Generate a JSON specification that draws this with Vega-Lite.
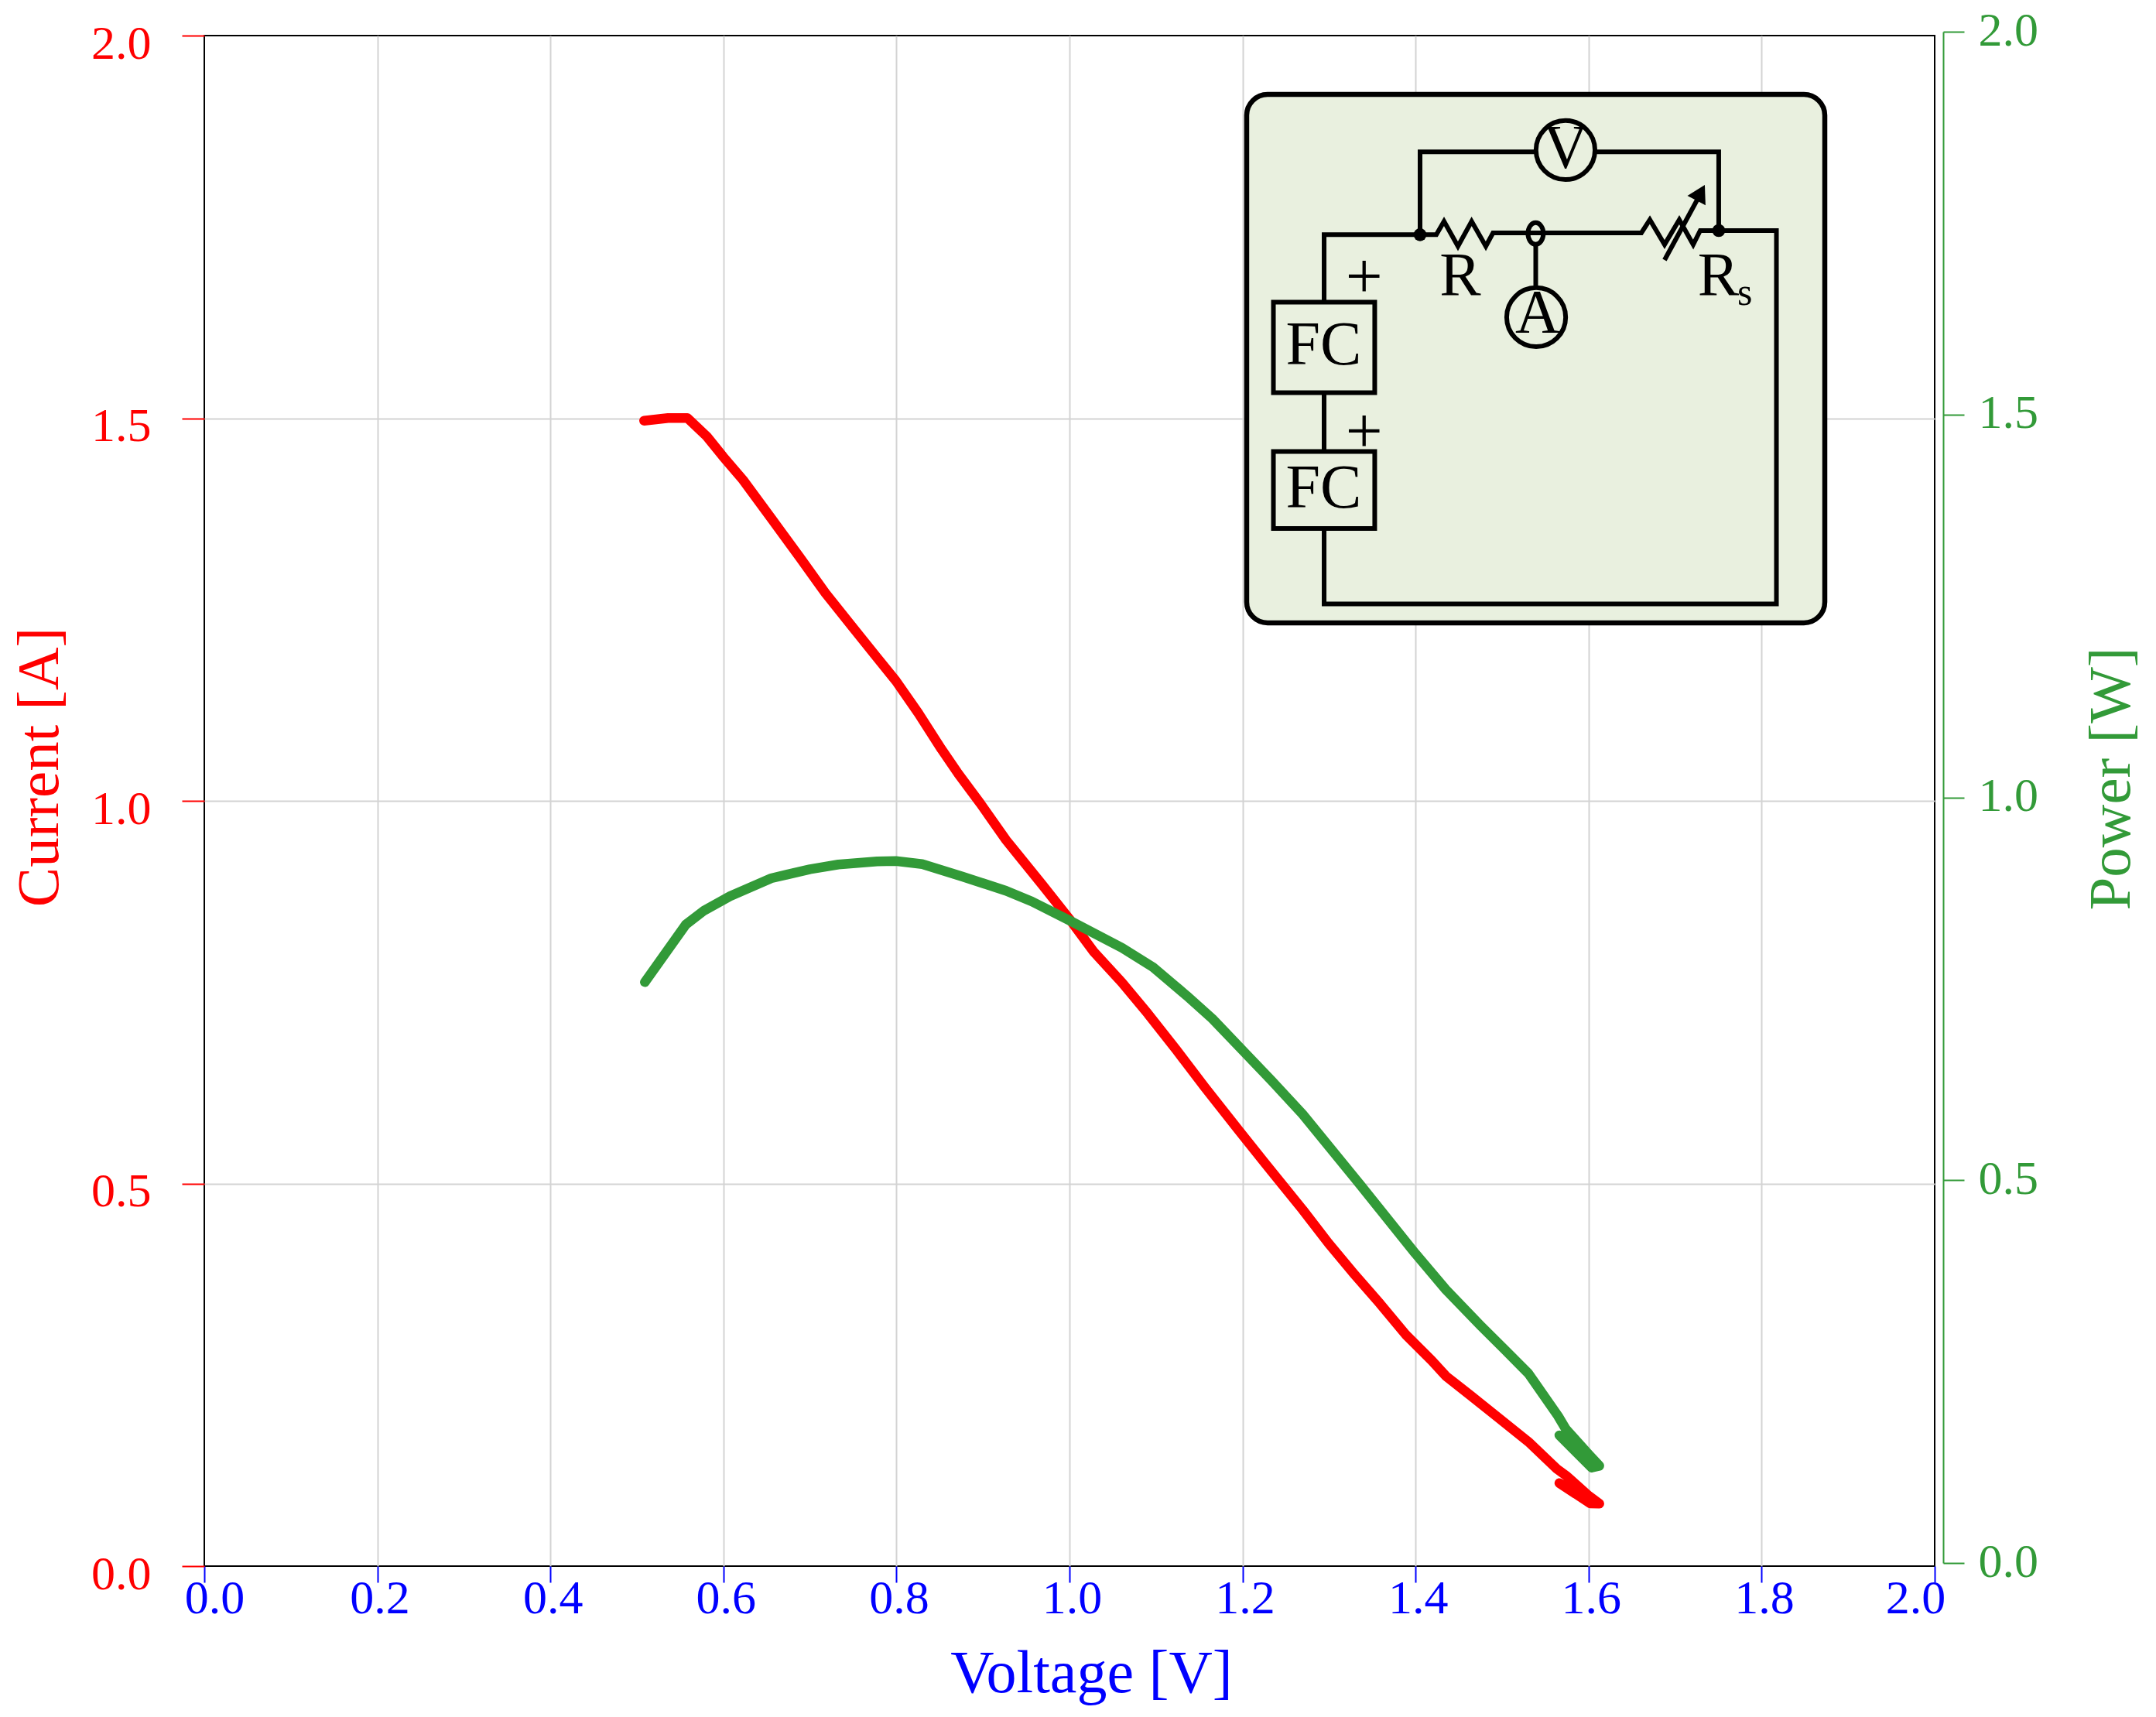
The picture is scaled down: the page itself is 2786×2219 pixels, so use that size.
{
  "$schema": "https://vega.github.io/schema/vega-lite/v6.json",
  "description": "Current and power against voltage with inset circuit diagram",
  "width": 2236,
  "height": 1978,
  "autosize": "none",
  "padding": {"left": 264, "top": 46, "right": 286, "bottom": 195},
  "background": "white",
  "config": {
    "view": {"stroke": "black", "strokeWidth": 2},
    "font": "Liberation Serif",
    "axis": {"labelFont": "Liberation Serif", "titleFont": "Liberation Serif", "titleFontWeight": "normal", "labelFontSize": 62, "titleFontSize": 77, "labelFlush": false, "labelBound": false, "labelOverlap": false, "titleAlign": "center", "titleBaseline": "middle"}
  },
  "datasets": {
    "current": [
      {"n": 1, "v": 0.5083, "y": 1.4968}, {"n": 2, "v": 0.536, "y": 1.5002}, {"n": 3, "v": 0.5584, "y": 1.5002}, {"n": 4, "v": 0.5808, "y": 1.4762},
      {"n": 5, "v": 0.5995, "y": 1.45}, {"n": 6, "v": 0.6225, "y": 1.4196}, {"n": 7, "v": 0.6554, "y": 1.3691}, {"n": 8, "v": 0.6881, "y": 1.3185},
      {"n": 9, "v": 0.718, "y": 1.2713}, {"n": 10, "v": 0.7478, "y": 1.2292}, {"n": 11, "v": 0.7776, "y": 1.1871}, {"n": 12, "v": 0.7994, "y": 1.1567},
      {"n": 13, "v": 0.8253, "y": 1.1146}, {"n": 14, "v": 0.8521, "y": 1.0674}, {"n": 15, "v": 0.8715, "y": 1.0354}, {"n": 16, "v": 0.8969, "y": 0.9967},
      {"n": 17, "v": 0.9267, "y": 0.9488}, {"n": 18, "v": 0.9371, "y": 0.9343}, {"n": 19, "v": 0.9684, "y": 0.8905}, {"n": 20, "v": 0.9997, "y": 0.846},
      {"n": 21, "v": 1.028, "y": 0.8028}, {"n": 22, "v": 1.0608, "y": 0.7624}, {"n": 23, "v": 1.0906, "y": 0.7219}, {"n": 24, "v": 1.1234, "y": 0.6747},
      {"n": 25, "v": 1.1563, "y": 0.6259}, {"n": 26, "v": 1.195, "y": 0.5703}, {"n": 27, "v": 1.2248, "y": 0.5281}, {"n": 28, "v": 1.2695, "y": 0.4658},
      {"n": 29, "v": 1.2994, "y": 0.4219}, {"n": 30, "v": 1.3292, "y": 0.3815}, {"n": 31, "v": 1.359, "y": 0.3428}, {"n": 32, "v": 1.3888, "y": 0.3023},
      {"n": 33, "v": 1.4186, "y": 0.2687}, {"n": 34, "v": 1.435, "y": 0.2484}, {"n": 35, "v": 1.4633, "y": 0.2232}, {"n": 36, "v": 1.4931, "y": 0.1962},
      {"n": 37, "v": 1.5304, "y": 0.1625}, {"n": 38, "v": 1.5632, "y": 0.1271}, {"n": 39, "v": 1.5736, "y": 0.1186}, {"n": 40, "v": 1.6004, "y": 0.0917},
      {"n": 41, "v": 1.6124, "y": 0.0816}, {"n": 42, "v": 1.602, "y": 0.0819}, {"n": 43, "v": 1.5662, "y": 0.1085}
    ],
    "power": [
      {"n": 1, "v": 0.5092, "y": 0.7587}, {"n": 2, "v": 0.5564, "y": 0.8337}, {"n": 3, "v": 0.5778, "y": 0.8523}, {"n": 4, "v": 0.6076, "y": 0.8708},
      {"n": 5, "v": 0.6554, "y": 0.8944}, {"n": 6, "v": 0.7001, "y": 0.9062}, {"n": 7, "v": 0.7328, "y": 0.9123}, {"n": 8, "v": 0.7776, "y": 0.9163},
      {"n": 9, "v": 0.7994, "y": 0.9169}, {"n": 10, "v": 0.8298, "y": 0.9129}, {"n": 11, "v": 0.8759, "y": 0.8967}, {"n": 12, "v": 0.9267, "y": 0.878},
      {"n": 13, "v": 0.9564, "y": 0.8641}, {"n": 14, "v": 0.9997, "y": 0.8395}, {"n": 15, "v": 1.0608, "y": 0.8034}, {"n": 16, "v": 1.0966, "y": 0.7782},
      {"n": 17, "v": 1.1353, "y": 0.7411}, {"n": 18, "v": 1.1652, "y": 0.7108}, {"n": 19, "v": 1.1995, "y": 0.6703}, {"n": 20, "v": 1.2337, "y": 0.6299},
      {"n": 21, "v": 1.2695, "y": 0.5862}, {"n": 22, "v": 1.3352, "y": 0.4952}, {"n": 23, "v": 1.3998, "y": 0.4042}, {"n": 24, "v": 1.435, "y": 0.3571},
      {"n": 25, "v": 1.4752, "y": 0.31}, {"n": 26, "v": 1.5021, "y": 0.2798}, {"n": 27, "v": 1.5304, "y": 0.2476}, {"n": 28, "v": 1.5647, "y": 0.192},
      {"n": 29, "v": 1.5736, "y": 0.1751}, {"n": 30, "v": 1.6004, "y": 0.1415}, {"n": 31, "v": 1.6124, "y": 0.127}, {"n": 32, "v": 1.6035, "y": 0.1246},
      {"n": 33, "v": 1.5662, "y": 0.1668}
    ],
    "wires": [
      {"w": "loop", "n": 1, "v": 1.2943, "y": 1.6497}, {"w": "loop", "n": 2, "v": 1.2943, "y": 1.7398}, {"w": "loop", "n": 3, "v": 1.424, "y": 1.7398},
      {"w": "loop", "n": 4, "v": 1.4329, "y": 1.7573}, {"w": "loop", "n": 5, "v": 1.449, "y": 1.7247}, {"w": "loop", "n": 6, "v": 1.4648, "y": 1.7573},
      {"w": "loop", "n": 7, "v": 1.4812, "y": 1.7247}, {"w": "loop", "n": 8, "v": 1.4895, "y": 1.7422}, {"w": "loop", "n": 9, "v": 1.661, "y": 1.7422},
      {"w": "loop", "n": 10, "v": 1.6708, "y": 1.7594}, {"w": "loop", "n": 11, "v": 1.6878, "y": 1.727}, {"w": "loop", "n": 12, "v": 1.7048, "y": 1.7594},
      {"w": "loop", "n": 13, "v": 1.7209, "y": 1.727}, {"w": "loop", "n": 14, "v": 1.729, "y": 1.7452}, {"w": "loop", "n": 15, "v": 1.8171, "y": 1.7452},
      {"w": "loop", "n": 16, "v": 1.8171, "y": 1.2573}, {"w": "loop", "n": 17, "v": 1.2943, "y": 1.2573}, {"w": "loop", "n": 18, "v": 1.2943, "y": 1.356},
      {"w": "cells", "n": 1, "v": 1.2943, "y": 1.5334}, {"w": "cells", "n": 2, "v": 1.2943, "y": 1.4565},
      {"w": "volt", "n": 1, "v": 1.4052, "y": 1.7398}, {"w": "volt", "n": 2, "v": 1.4052, "y": 1.848}, {"w": "volt", "n": 3, "v": 1.7504, "y": 1.848}, {"w": "volt", "n": 4, "v": 1.7504, "y": 1.7452},
      {"w": "amp", "n": 1, "v": 1.5389, "y": 1.727}, {"w": "amp", "n": 2, "v": 1.5389, "y": 1.6734},
      {"w": "arrow", "n": 1, "v": 1.6878, "y": 1.7068}, {"w": "arrow", "n": 2, "v": 1.7295, "y": 1.7937}
    ],
    "tap": [
      {"n": 1, "v": 1.5388, "y": 1.7556}, {"n": 2, "v": 1.5451, "y": 1.7514}, {"n": 3, "v": 1.5477, "y": 1.7414}, {"n": 4, "v": 1.5451, "y": 1.7314},
      {"n": 5, "v": 1.5388, "y": 1.7272}, {"n": 6, "v": 1.5325, "y": 1.7314}, {"n": 7, "v": 1.5299, "y": 1.7414}, {"n": 8, "v": 1.5325, "y": 1.7514}
    ],
    "labels": [
      {"t": "FC", "v": 1.2938, "y": 1.5705}, {"t": "FC", "v": 1.2938, "y": 1.3835}, {"t": "R", "v": 1.4517, "y": 1.6606}, {"t": "R", "v": 1.75, "y": 1.6603},
      {"t": "V", "v": 1.5733, "y": 1.8266}, {"t": "A", "v": 1.5411, "y": 1.6117}
    ],
    "plus": [
      {"t": "+", "v": 1.3405, "y": 1.6572}, {"t": "+", "v": 1.3405, "y": 1.4555}
    ]
  },
  "encoding": {
    "x": {
      "field": "v",
      "type": "quantitative",
      "title": "Voltage [V]",
      "scale": {"domain": [0, 2]},
      "axis": {
        "values": [0, 0.2, 0.4, 0.6, 0.8, 1, 1.2, 1.4, 1.6, 1.8, 2],
        "format": ".1f",
        "domain": false,
        "grid": true,
        "gridColor": "#d3d3d3",
        "gridWidth": 2,
        "gridOpacity": {"condition": {"test": "datum.value == 0 || datum.value == 2", "value": 0}, "value": 1},
        "tickColor": "#0000ff",
        "tickWidth": 2,
        "tickSize": 21,
        "labelColor": "#0000ff",
        "labelPadding": -10,
        "labelOffset": {"condition": [{"test": "datum.value == 0", "value": 13}, {"test": "datum.value == 2", "value": -25}], "value": 3},
        "titleColor": "#0000ff",
        "titleFontSize": 78,
        "titleX": 1146,
        "titleY": 139
      }
    }
  },
  "layer": [
    {
      "data": {"name": "current"},
      "mark": {"type": "line", "color": "#ff0000", "strokeWidth": 12.5, "strokeCap": "round", "strokeJoin": "round"},
      "encoding": {
        "y": {
          "field": "y",
          "type": "quantitative",
          "title": "Current [A]",
          "scale": {"domain": [0, 2]},
          "axis": {
            "orient": "left",
            "values": [0, 0.5, 1, 1.5, 2],
            "format": ".1f",
            "domain": false,
            "grid": true,
            "gridColor": "#d3d3d3",
            "gridWidth": 2,
            "gridOpacity": {"condition": {"test": "datum.value == 0 || datum.value == 2", "value": 0}, "value": 1},
            "tickColor": "#ff0000",
            "tickWidth": 2,
            "tickSize": 29,
            "labelColor": "#ff0000",
            "labelPadding": 40,
            "labelOffset": 10,
            "titleColor": "#ff0000",
            "titleX": -213,
            "titleY": 945,
            "titleAngle": -90
          }
        },
        "order": {"field": "n", "type": "quantitative"}
      }
    },
    {
      "data": {"name": "power"},
      "mark": {"type": "line", "color": "#329a38", "strokeWidth": 12.5, "strokeCap": "round", "strokeJoin": "round"},
      "encoding": {
        "y": {
          "field": "y",
          "type": "quantitative",
          "title": "Power [W]",
          "scale": {"domain": [0, 2], "range": [1974, -5]},
          "axis": {
            "orient": "right",
            "offset": 11,
            "values": [0, 0.5, 1, 1.5, 2],
            "format": ".1f",
            "grid": false,
            "domain": true,
            "domainColor": "#329a38",
            "domainWidth": 2,
            "tickColor": "#329a38",
            "tickWidth": 2,
            "tickSize": 27,
            "labelColor": "#329a38",
            "labelPadding": 18,
            "labelOffset": -2,
            "titleColor": "#329a38",
            "titleX": 217,
            "titleY": 960,
            "titleAngle": -90
          }
        },
        "order": {"field": "n", "type": "quantitative"}
      }
    },
    {
      "data": {"values": [{"v": 1.2048, "v2": 1.873, "y": 1.9231, "y2": 1.2326}]},
      "mark": {"type": "rect", "fill": "#e9f0df", "stroke": "black", "strokeWidth": 6.5, "cornerRadius": 27},
      "encoding": {
        "x2": {"field": "v2"},
        "y": {"field": "y", "type": "quantitative", "scale": {"domain": [0, 2]}, "axis": null},
        "y2": {"field": "y2"}
      }
    },
    {
      "data": {"name": "wires"},
      "mark": {"type": "line", "color": "black", "strokeWidth": 6, "strokeJoin": "miter"},
      "encoding": {
        "y": {"field": "y", "type": "quantitative", "scale": {"domain": [0, 2]}, "axis": null},
        "detail": {"field": "w"},
        "order": {"field": "n", "type": "quantitative"}
      }
    },
    {
      "data": {"name": "tap"},
      "mark": {"type": "line", "color": "black", "strokeWidth": 6, "interpolate": "cardinal-closed"},
      "encoding": {
        "y": {"field": "y", "type": "quantitative", "scale": {"domain": [0, 2]}, "axis": null},
        "order": {"field": "n", "type": "quantitative"}
      }
    },
    {
      "data": {"values": [{"v": 1.2357, "v2": 1.3528, "y": 1.6517, "y2": 1.5334}, {"v": 1.2357, "v2": 1.3528, "y": 1.4565, "y2": 1.356}]},
      "mark": {"type": "rect", "fill": "#e9f0df", "stroke": "black", "strokeWidth": 6},
      "encoding": {
        "x2": {"field": "v2"},
        "y": {"field": "y", "type": "quantitative", "scale": {"domain": [0, 2]}, "axis": null},
        "y2": {"field": "y2"}
      }
    },
    {
      "data": {"values": [{"v": 1.5733, "y": 1.8504}, {"v": 1.5394, "y": 1.632}]},
      "mark": {"type": "point", "shape": "circle", "filled": false, "fill": "#e9f0df", "fillOpacity": 1, "stroke": "black", "strokeOpacity": 1, "strokeWidth": 6, "size": 5809},
      "encoding": {
        "y": {"field": "y", "type": "quantitative", "scale": {"domain": [0, 2]}, "axis": null}
      }
    },
    {
      "data": {"values": [{"v": 1.4052, "y": 1.7398}, {"v": 1.7504, "y": 1.7452}]},
      "mark": {"type": "point", "shape": "circle", "filled": true, "color": "black", "opacity": 1, "size": 280},
      "encoding": {
        "y": {"field": "y", "type": "quantitative", "scale": {"domain": [0, 2]}, "axis": null}
      }
    },
    {
      "data": {"values": [{"v": 1.7295, "y": 1.7947}]},
      "mark": {"type": "point", "shape": "triangle-up", "filled": true, "color": "black", "opacity": 1, "size": 700, "angle": 28},
      "encoding": {
        "y": {"field": "y", "type": "quantitative", "scale": {"domain": [0, 2]}, "axis": null}
      }
    },
    {
      "data": {"name": "labels"},
      "mark": {"type": "text", "font": "Liberation Serif", "fontSize": 80, "color": "black", "align": "center", "baseline": "alphabetic"},
      "encoding": {
        "y": {"field": "y", "type": "quantitative", "scale": {"domain": [0, 2]}, "axis": null},
        "text": {"field": "t"}
      }
    },
    {
      "data": {"name": "plus"},
      "mark": {"type": "text", "font": "Liberation Serif", "fontSize": 85, "color": "black", "align": "center", "baseline": "alphabetic"},
      "encoding": {
        "y": {"field": "y", "type": "quantitative", "scale": {"domain": [0, 2]}, "axis": null},
        "text": {"field": "t"}
      }
    },
    {
      "data": {"values": [{"t": "s", "v": 1.7806, "y": 1.6481}]},
      "mark": {"type": "text", "font": "Liberation Serif", "fontSize": 50, "color": "black", "align": "center", "baseline": "alphabetic"},
      "encoding": {
        "y": {"field": "y", "type": "quantitative", "scale": {"domain": [0, 2]}, "axis": null},
        "text": {"field": "t"}
      }
    }
  ],
  "resolve": {"scale": {"y": "independent"}, "axis": {"y": "independent"}}
}
